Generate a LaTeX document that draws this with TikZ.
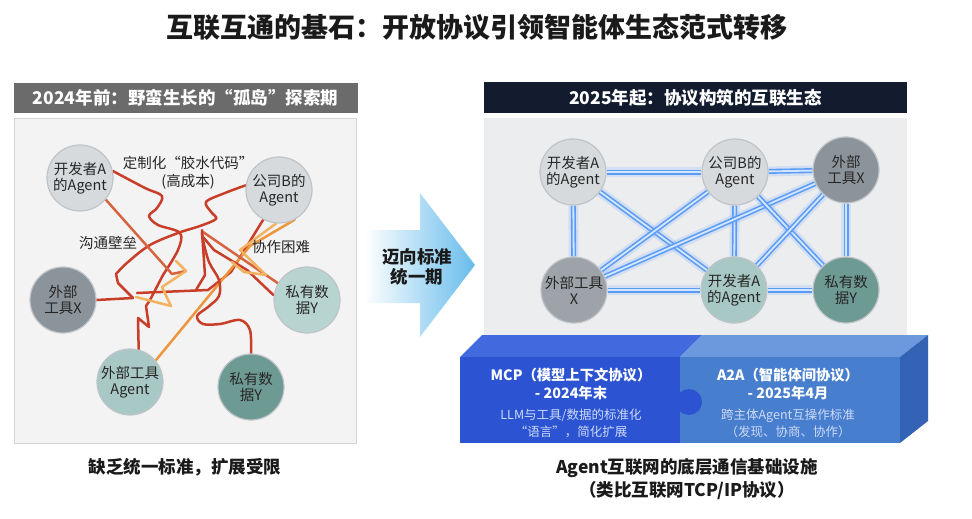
\documentclass[tikz,border=0pt]{standalone}
\usepackage{fontspec}
\setmainfont{Noto Sans CJK SC}
\pgfdeclarelayer{bglayer}
\pgfdeclarelayer{edgelayer}
\pgfsetlayers{bglayer,edgelayer,main}
\definecolor{titlecol}{HTML}{1A1A1A}
\definecolor{lheadcol}{HTML}{6B6B6B}
\definecolor{rheadcol}{HTML}{121C2E}
\definecolor{panelfill}{HTML}{F3F3F3}
\definecolor{rpanelfill}{HTML}{ECEDEF}
\definecolor{panelline}{HTML}{D4D4D4}
\definecolor{bubline}{HTML}{BFC4C8}
\definecolor{nodetext}{HTML}{262626}
\definecolor{cLight}{HTML}{D6DADD}
\definecolor{cDark}{HTML}{8C949B}
\definecolor{cGrey}{HTML}{9DA3A8}
\definecolor{cTealL}{HTML}{B8D4D1}
\definecolor{cTealM}{HTML}{A8C8C5}
\definecolor{cTealD}{HTML}{6E9A94}
\definecolor{tred}{RGB}{200,62,40}
\definecolor{tred2}{RGB}{214,100,62}
\definecolor{torange}{RGB}{236,150,62}
\definecolor{tlorange}{RGB}{242,178,96}
\definecolor{glowout}{RGB}{120,170,255}
\definecolor{glowmid}{RGB}{90,155,245}
\definecolor{glowin}{RGB}{212,230,255}
\definecolor{arrowblue}{RGB}{104,188,236}
\definecolor{mcpfront}{RGB}{44,84,210}
\definecolor{mcptop}{RGB}{66,106,222}
\definecolor{a2afront}{RGB}{72,126,206}
\definecolor{a2atop}{RGB}{108,152,222}
\definecolor{sideface}{RGB}{52,98,180}
\definecolor{subtext}{RGB}{205,218,248}
\tikzset{
  bub/.style={circle, minimum size=66pt, inner sep=0pt, draw=bubline, line width=1.2pt,
    align=center, font=\fontsize{14.5}{16}\selectfont, text=nodetext},
  tangle/.style={line width=2.5pt, line join=round, line cap=round},
  glowA/.style={line width=10pt, draw=glowout, opacity=0.22},
  glowB/.style={line width=5pt, draw=glowmid},
  glowC/.style={line width=1.8pt, draw=glowin},
  headbar/.style={minimum height=30pt, inner sep=0pt, text=white,
    font=\fontsize{17.5}{19}\selectfont\bfseries},
  lbl/.style={align=center, font=\fontsize{14.5}{17.5}\selectfont, text=nodetext},
  capt/.style={align=center, font=\fontsize{17.5}{23}\selectfont\bfseries, text=titlecol},
  blk/.style={align=center, text=white, font=\fontsize{14.3}{17.5}\selectfont\bfseries},
  blksub/.style={align=center, text=subtext, font=\fontsize{12.5}{17}\selectfont},
}
\newcommand\glowedge[2]{%
  \draw[glowA] (#1)--(#2);
  \draw[glowB] (#1)--(#2);
  \draw[glowC] (#1)--(#2);}
\begin{document}
\begin{tikzpicture}[x=1pt,y=-1pt]
\useasboundingbox (0,0) rectangle (972,519);
\begin{pgfonlayer}{bglayer}
\fill[white] (0,0) rectangle (972,519);
\end{pgfonlayer}

% title
\node[font=\fontsize{27}{30}\selectfont\bfseries, text=titlecol] (title) at (477,27) {互联互通的基石：开放协议引领智能体生态范式转移};

% ---------- left side ----------
\node[headbar, fill=lheadcol, minimum width=344pt] (lhead) at (185.5,98) {2024年前：野蛮生长的“孤岛”探索期};
\begin{pgfonlayer}{bglayer}
\node[draw=panelline, fill=panelfill, line width=1pt, minimum width=342pt, minimum height=325pt, inner sep=0pt] (lpanel) at (185,280.5) {};
\end{pgfonlayer}

\node[bub, fill=cLight] (lA) at (80,178) {开发者A\\的Agent};
\node[bub, fill=cLight] (lB) at (279,190) {公司B的\\Agent};
\node[bub, fill=cDark] (lX) at (63,300) {外部\\工具X};
\node[bub, fill=cTealL] (lY) at (307,300) {私有数\\据Y};
\node[bub, fill=cTealM] (lT) at (130,382) {外部工具\\Agent};
\node[bub, fill=cTealD] (lY2) at (251,387) {私有数\\据Y};

\node[lbl] (glue) at (188,173) {定制化“胶水代码”\\(高成本)};
\node[lbl] (barrier) at (108,243) {沟通壁垒};
\node[lbl] (hard) at (281,247) {协作困难};

\begin{pgfonlayer}{edgelayer}
% wavy line from A
\draw[tangle, tred] plot[smooth, tension=0.55] coordinates {(lA.12) (145,188) (162,196) (157,208) (149,216) (158,225) (180,233) (178,250) (163,275)} -- (150,300) -- (146,306) -- (149,327) -- (138,318) -- (lT.75);
% wavy line from B
\draw[tangle, tred] plot[smooth, tension=0.55] coordinates {(lB.172) (225,193) (206,202) (212,213) (216,219) (200,226) (178,233) (150,245) (128,262) (116,274)} -- (118,283) -- (133,298);
% A lower diagonal
\draw[tangle, tred2] (lA.-40) -- (172,274) -- (186,271);
% B lower
\draw[tangle, tred] (lB.-118) -- (231,272) -- (208,290) -- (137,293);
% orange long line B to tool agent
\draw[tangle, torange] (lB.-62) -- (250,246) -- (lT.40);
% private data right to centre
\draw[tangle, tred] (lY.172) -- (247,270) -- (214,250) -- (203,237);
\draw[tangle, tred2] (lY.150) -- (203,232);
% squiggle from bottom private data
\draw[tangle, tred] plot[smooth, tension=0.55] coordinates {(lY2.north) (250,330) (240,320) (220,324) (203,324) (197,316) (208,307) (219,296) (219,280) (209,262) (203,240) (202,230)};
% orange zigzags
\draw[tangle, tlorange] (lB.-95) -- (240,250) -- (266,275) -- (244,272) -- (232,262);
\draw[tangle, tlorange] (136,297) -- (171,306) -- (162,287) -- (186,271) -- (176,261);
% tool X line
\draw[tangle, tred] (lX.east) -- (133,298);
% centre vertical
\draw[tangle, tred] (202,232) -- (205,275) -- (196,290);
\end{pgfonlayer}

\node[capt] (lcap) at (185,467) {缺乏统一标准，扩展受限};

% ---------- middle arrow ----------
\path[left color=white, right color=arrowblue, shading angle=90] (364,230) -- (420,230) -- (420,193) -- (475,265) -- (420,337) -- (420,303) -- (364,303) -- cycle;
\node[align=center, font=\fontsize{17.5}{20}\selectfont\bfseries, text=titlecol] (mid) at (417,267) {迈向标准\\统一期};

% ---------- right side ----------
\node[headbar, fill=rheadcol, minimum width=423pt] (rhead) at (695.5,97.5) {2025年起：协议构筑的互联生态};
\begin{pgfonlayer}{bglayer}
\node[fill=rpanelfill, minimum width=423pt, minimum height=227pt, inner sep=0pt] (rpanel) at (695.5,231.5) {};
\end{pgfonlayer}

\node[bub, fill=cLight] (rA) at (573,172) {开发者A\\的Agent};
\node[bub, fill=cLight] (rB) at (735,172) {公司B的\\Agent};
\node[bub, fill=cDark] (rX) at (846,170) {外部\\工具X};
\node[bub, fill=cGrey] (rX2) at (574,290) {外部工具\\X};
\node[bub, fill=cTealM] (rA2) at (734,290) {开发者A\\的Agent};
\node[bub, fill=cTealD] (rY) at (846,290) {私有数\\据Y};

\begin{pgfonlayer}{edgelayer}
\glowedge{rA}{rB}
\glowedge{rB}{rX}
\glowedge{rX2}{rA2}
\glowedge{rA2}{rY}
\glowedge{rA}{rX2}
\glowedge{rB}{rA2}
\glowedge{rX}{rY}
\glowedge{rA}{rA2}
\glowedge{rB}{rX2}
\glowedge{rX}{rX2}
\glowedge{rB}{rY}
\glowedge{rX}{rA2}
\end{pgfonlayer}

% 3D block
\fill[mcptop] (460,357) -- (482,335) -- (702,335) -- (680,357) -- cycle;
\fill[a2atop] (680,357) -- (702,335) -- (928,335) -- (900,357) -- cycle;
\fill[sideface] (900,357) -- (928,335) -- (928,421) -- (900,443) -- cycle;
\fill[mcpfront] (460,357) rectangle (680,443);
\fill[a2afront] (680,357) rectangle (900,443);
\fill[mcpfront] (689,402) circle[radius=13];

\node[blk] (mcp1) at (571,384) {MCP（模型上下文协议）\\- 2024年末};
\node[blksub] (mcp2) at (571,423) {LLM与工具/数据的标准化\\“语言”，简化扩展};
\node[blk] (a2a1) at (788,384) {A2A（智能体间协议）\\- 2025年4月};
\node[blksub] (a2a2) at (788,423) {跨主体Agent互操作标准\\（发现、协商、协作）};

\node[capt] (rcap) at (687,479) {Agent互联网的底层通信基础设施\\（类比互联网TCP/IP协议）};
\end{tikzpicture}
\end{document}
